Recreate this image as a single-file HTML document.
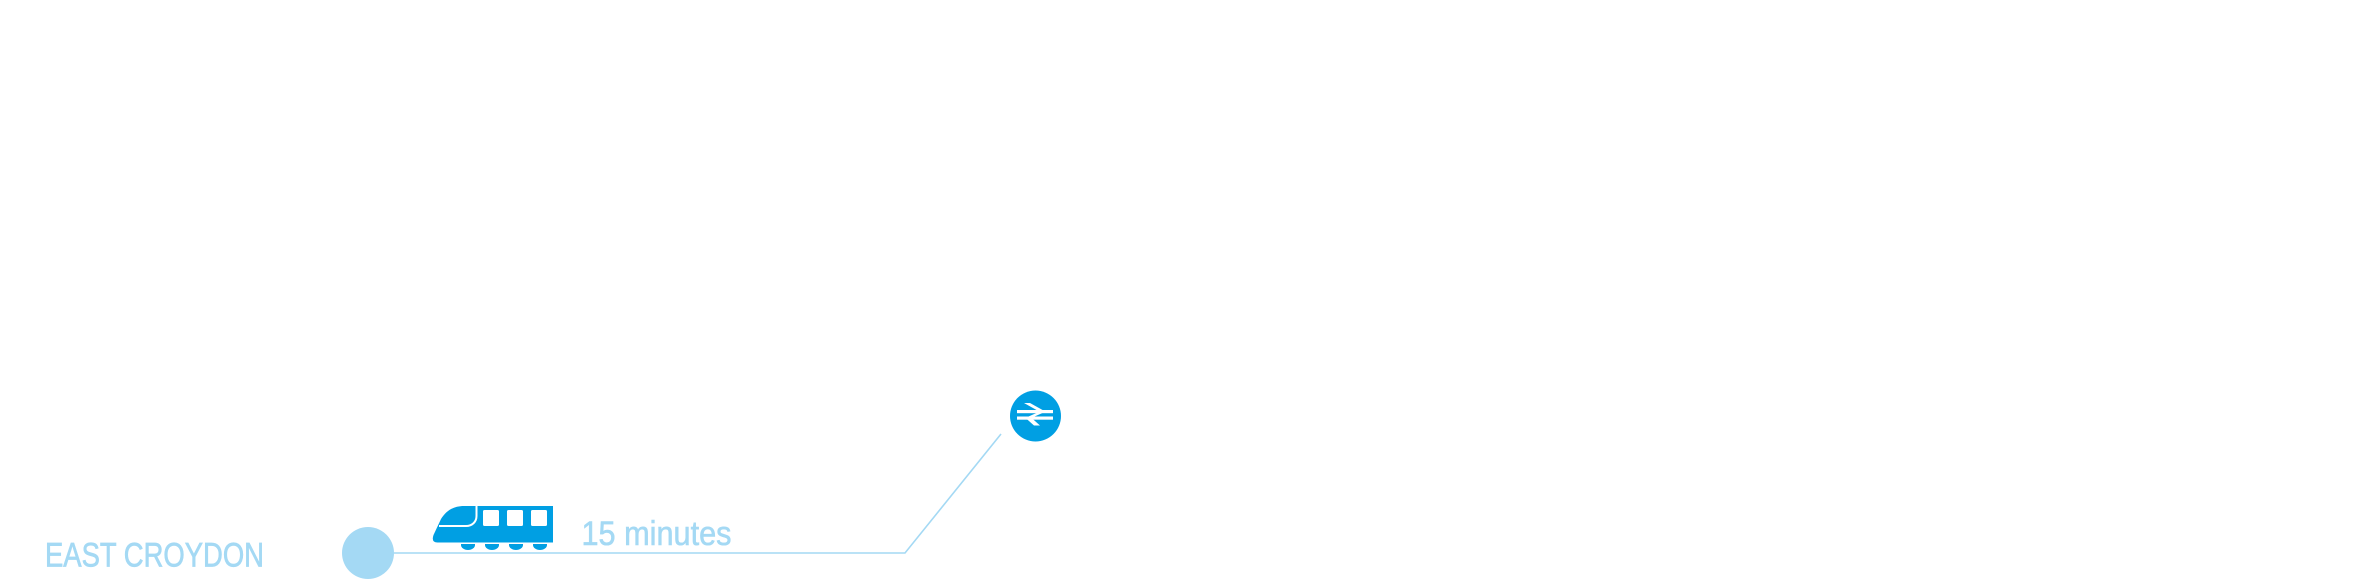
<!DOCTYPE html>
<html>
<head>
<meta charset="utf-8">
<style>
  html, body { margin:0; padding:0; background:#ffffff; }
  body { width:2353px; height:580px; overflow:hidden; }
  svg { display:block; }
</style>
</head>
<body>
<svg width="2353" height="580" viewBox="0 0 2353 580" xmlns="http://www.w3.org/2000/svg">
  <rect x="0" y="0" width="2353" height="580" fill="#ffffff"/>

  <!-- connector line -->
  <polyline points="380,553 905,553 1001,434" fill="none" stroke="#a4d9f4" stroke-width="1.6"/>

  <!-- origin node -->
  <circle cx="368" cy="553" r="26" fill="#a4d9f4"/>

  <!-- label -->
  <text x="45" y="566.5" font-family="'Liberation Sans', sans-serif" font-size="34" fill="#a4d9f4" stroke="#a4d9f4" stroke-width="0.7" textLength="219" lengthAdjust="spacingAndGlyphs">EAST CROYDON</text>

  <!-- train icon -->
  <g fill="#009fe3">
    <path d="M553 506 L464 506 C453 506 446 511 441 519 L433.5 535 Q431 542.5 437.5 542.5 L553 542.5 Z"/>
    <path d="M461 544 h14 v1 a7 5 0 0 1 -14 0 z"/>
    <path d="M485 544 h14 v1 a7 5 0 0 1 -14 0 z"/>
    <path d="M509 544 h14 v1 a7 5 0 0 1 -14 0 z"/>
    <path d="M533 544 h14 v1 a7 5 0 0 1 -14 0 z"/>
  </g>
  <path d="M439 526 L466 526 C472 526 476.5 522 476.5 516 L476.5 505" fill="none" stroke="#ffffff" stroke-width="2"/>
  <g fill="#ffffff">
    <rect x="483" y="510" width="16" height="16" rx="1.5"/>
    <rect x="507" y="510" width="16" height="16" rx="1.5"/>
    <rect x="531" y="510" width="16" height="16" rx="1.5"/>
  </g>

  <!-- duration label -->
  <text x="581.5" y="545" font-family="'Liberation Sans', sans-serif" font-size="34" fill="#a4d9f4" stroke="#a4d9f4" stroke-width="0.6" textLength="150" lengthAdjust="spacingAndGlyphs">15 minutes</text>

  <!-- station icon -->
  <circle cx="1035.5" cy="416" r="25.5" fill="#009fe3"/>
  <g fill="#ffffff">
    <rect x="1017" y="410" width="36" height="3.2"/>
    <rect x="1017" y="416.5" width="36" height="3.2"/>
    <polygon points="1024,403 1030,403 1043,410.2 1037,410.2"/>
    <polygon points="1037,412.8 1043,412.8 1034,416.8 1028,416.8"/>
    <polygon points="1027,419.2 1033,419.2 1040,425.5 1034,425.5"/>
  </g>
</svg>
</body>
</html>
